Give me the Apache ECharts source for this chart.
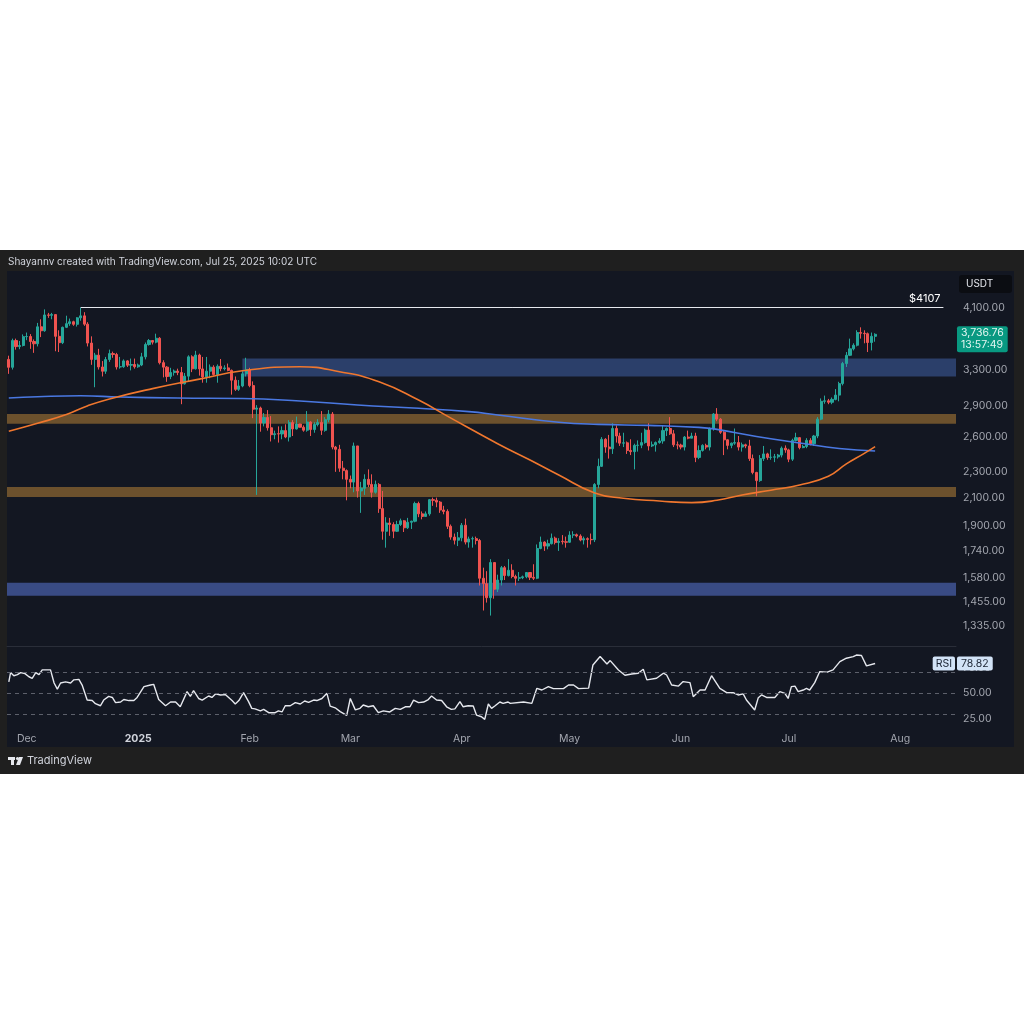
<!DOCTYPE html>
<html>
<head>
<meta charset="utf-8">
<title>ETH/USDT daily</title>
<script src="https://cdn.jsdelivr.net/npm/echarts@6/dist/echarts.min.js"></script>
<style>
  html, body { margin: 0; padding: 0; background: #fff; }
  #main { width: 1024px; height: 1024px; }
</style>
</head>
<body>
<div id="main"></div>
<script>
// one category per day, first candle Nov 26 2024, empty space kept up to mid Aug
var startDate = '2024-11-26';
var dayCount = 264;

// daily candles [open, close, low, high]
var ohlc = [
  // Nov 26 - 30
  [3420,3326,3250,3465],[3326,3655,3300,3680],[3655,3578,3540,3680],[3578,3592,3545,3650],[3592,3706,3580,3735],
  // Dec
  [3706,3708,3660,3760],[3708,3643,3550,3740],[3643,3614,3500,3670],[3614,3837,3580,3890],[3837,3784,3700,3940],
  [3784,4001,3770,4080],[4001,3996,3960,4030],[3996,4006,3940,4030],[4006,3710,3520,4010],[3710,3628,3510,3790],
  [3628,3830,3610,3840],[3830,3880,3820,3990],[3880,3906,3850,3950],[3906,3871,3850,3920],[3871,3960,3840,3970],
  [3960,3988,3920,4107],[3988,3873,3850,4040],[3873,3623,3580,3900],[3623,3420,3355,3710],[3420,3472,3100,3500],
  [3472,3330,3300,3550],[3330,3280,3220,3400],[3280,3418,3250,3450],[3418,3491,3390,3540],[3491,3480,3440,3515],
  [3480,3330,3300,3500],[3330,3333,3310,3450],[3333,3402,3320,3420],[3402,3351,3330,3410],[3351,3359,3290,3430],
  [3359,3332,3310,3430],
  // Jan
  [3332,3353,3320,3370],[3353,3451,3340,3500],[3451,3605,3420,3630],[3605,3656,3590,3675],[3656,3635,3605,3660],
  [3635,3685,3620,3745],[3685,3381,3360,3700],[3381,3328,3210,3410],[3328,3220,3160,3340],[3220,3265,3190,3320],
  [3265,3282,3230,3300],[3282,3265,3235,3310],[3265,3138,2920,3330],[3138,3224,3130,3260],[3224,3451,3160,3470],
  [3451,3308,3270,3470],[3308,3473,3300,3525],[3473,3307,3230,3490],[3307,3215,3150,3450],[3215,3281,3150,3450],
  [3281,3328,3200,3360],[3328,3243,3230,3350],[3243,3338,3150,3360],[3338,3310,3280,3425],[3310,3319,3290,3350],
  [3319,3290,3280,3370],[3290,3178,3020,3300],[3178,3077,3060,3220],[3077,3114,3060,3180],[3114,3250,3100,3280],
  [3250,3300,3220,3440],
  // Feb
  [3300,3118,3100,3320],[3118,2869,2780,3165],[2869,2881,2120,2910],[2881,2732,2650,2895],[2732,2786,2700,2830],
  [2786,2687,2660,2860],[2687,2622,2560,2800],[2622,2631,2580,2660],[2631,2629,2550,2700],[2629,2660,2580,2700],
  [2660,2601,2590,2720],[2601,2737,2560,2760],[2737,2676,2610,2760],[2676,2723,2670,2795],[2723,2692,2690,2725],
  [2692,2664,2650,2710],[2664,2742,2650,2850],[2742,2670,2610,2750],[2670,2718,2640,2740],[2718,2738,2700,2770],
  [2738,2663,2620,2850],[2663,2765,2650,2790],[2765,2820,2740,2860],[2820,2510,2490,2840],[2510,2490,2300,2520],
  [2490,2330,2300,2530],[2330,2310,2240,2390],[2310,2240,2080,2320],
  // Mar
  [2240,2218,2170,2270],[2218,2520,2140,2550],[2520,2150,2100,2520],[2150,2170,1990,2220],[2170,2240,2120,2280],
  [2240,2200,2180,2320],[2200,2140,2100,2280],[2140,2200,2130,2230],[2200,2020,1990,2210],[2020,1865,1810,2150],
  [1865,1920,1760,1960],[1920,1910,1835,1955],[1910,1865,1820,1925],[1865,1910,1860,1935],[1910,1935,1900,1950],
  [1935,1888,1860,1940],[1888,1925,1880,1955],[1925,1932,1880,1936],[1932,2057,1925,2070],[2057,1983,1960,2070],
  [1983,1965,1945,2000],[1965,1983,1965,2000],[1983,2085,1970,2090],[2085,2080,2040,2100],[2080,2067,2030,2100],
  [2067,2010,1990,2075],[2010,2000,1980,2040],[2000,1898,1880,2015],[1898,1827,1810,1910],[1827,1807,1780,1850],
  [1807,1822,1770,1860],
  // Apr
  [1822,1905,1800,1920],[1905,1795,1780,1950],[1795,1815,1760,1830],[1815,1817,1760,1830],[1817,1805,1780,1830],
  [1805,1580,1540,1815],[1580,1550,1410,1640],[1550,1475,1450,1620],[1475,1670,1385,1690],[1670,1520,1470,1670],
  [1520,1570,1505,1600],[1570,1640,1540,1650],[1640,1595,1570,1650],[1595,1625,1590,1690],[1625,1590,1580,1660],
  [1590,1580,1540,1600],[1580,1583,1565,1615],[1583,1588,1575,1595],[1588,1612,1580,1615],[1612,1585,1570,1615],
  [1585,1580,1570,1660],[1580,1755,1575,1780],[1755,1795,1750,1830],[1795,1770,1740,1800],[1770,1785,1750,1810],
  [1785,1820,1780,1850],[1820,1792,1780,1830],[1792,1800,1740,1820],[1800,1797,1780,1840],[1797,1794,1760,1830],
  // May
  [1794,1840,1790,1865],[1840,1842,1820,1865],[1842,1834,1825,1850],[1834,1808,1800,1845],[1808,1817,1780,1830],
  [1817,1812,1760,1825],[1812,1810,1780,1850],[1810,2200,1795,2210],[2200,2345,2170,2410],[2345,2580,2340,2600],
  [2580,2510,2460,2590],[2510,2495,2410,2620],[2495,2680,2450,2730],[2680,2610,2550,2710],[2610,2545,2520,2640],
  [2545,2548,2510,2640],[2548,2480,2450,2560],[2480,2470,2440,2580],[2470,2525,2320,2540],[2525,2527,2470,2570],
  [2527,2550,2500,2640],[2550,2665,2540,2680],[2665,2520,2480,2730],[2520,2530,2510,2560],[2530,2550,2470,2560],
  [2550,2565,2540,2590],[2565,2660,2540,2710],[2660,2680,2610,2690],[2680,2630,2620,2790],[2630,2530,2510,2665],
  [2530,2528,2490,2560],
  // Jun
  [2528,2510,2490,2540],[2510,2600,2480,2610],[2600,2590,2580,2660],[2590,2610,2590,2640],[2610,2420,2380,2640],
  [2420,2480,2405,2525],[2480,2525,2470,2535],[2525,2510,2490,2540],[2510,2680,2480,2690],[2680,2820,2660,2830],
  [2820,2770,2750,2880],[2770,2645,2630,2780],[2645,2575,2440,2655],[2575,2525,2490,2580],[2525,2545,2500,2550],
  [2545,2550,2530,2680],[2550,2510,2480,2610],[2510,2530,2470,2550],[2530,2520,2500,2540],[2520,2410,2390,2575],
  [2410,2295,2280,2445],[2295,2230,2110,2300],[2230,2410,2220,2440],[2410,2450,2390,2520],[2450,2420,2400,2460],
  [2420,2422,2400,2490],[2422,2425,2380,2450],[2425,2440,2410,2450],[2440,2500,2420,2515],[2500,2485,2460,2525],
  // Jul 1 - 25
  [2485,2405,2380,2495],[2405,2570,2390,2585],[2570,2595,2560,2640],[2595,2505,2490,2600],[2505,2515,2500,2530],
  [2515,2570,2500,2590],[2570,2540,2525,2590],[2540,2610,2520,2620],[2610,2770,2590,2790],[2770,2950,2760,2980],
  [2950,2955,2925,3010],[2955,2940,2920,2975],[2940,2970,2920,2990],[2970,3015,2960,3080],[3015,3140,2950,3160],
  [3140,3370,3120,3390],[3370,3470,3330,3510],[3470,3550,3460,3680],[3550,3595,3530,3620],[3595,3760,3580,3790],
  [3760,3750,3680,3830],[3750,3745,3620,3790],[3745,3630,3510,3760],[3630,3710,3530,3760],[3710,3736.76,3640,3750]
];

// moving averages, [day index, price]
var maBlue = [[0,2984],[8,2998],[20,3008],[31,2995],[47,2984],[65,2979],[81,2953],[97,2912],[114,2878],
  [128,2844],[136,2811],[153,2740],[164,2719],[178,2710],[192,2691],[197,2672],[208,2605],[220,2547],
  [231,2498],[241,2476]];
var maOrange = [[0,2654],[8,2730],[16,2815],[22,2905],[28,2975],[40,3085],[53,3190],[65,3285],
  [81,3333],[92,3275],[103,3161],[114,2963],[122,2800],[136,2540],[145,2398],[153,2274],[163,2135],
  [171,2095],[181,2075],[190,2063],[197,2080],[204,2120],[212,2155],[220,2196],[228,2265],
  [233,2365],[238,2455],[241,2514]];

var rsi = [[0,61],[0.5,70],[1.4,67],[2.4,68],[3.3,70],[4.5,69],[5.6,66],[6.5,64.5],[7.5,70],[8.4,68],
  [9.3,72.6],[11.6,72.6],[12.6,60],[13.5,54],[14.4,60],[15.8,61],[17.2,60],[18.1,63],[19.5,63.5],[20.4,58],
  [21.8,43.5],[23.2,43],[24.1,40],[25.5,38],[26.4,43.5],[27.8,47],[28.8,46],[29.7,41],[31.1,41.6],[32,44],
  [33.4,43],[34.8,43],[35.7,46],[37.6,56.5],[39.4,58],[40.3,58.7],[41.7,44],[43.6,38],[45,41.6],[46.4,41.6],
  [47.7,37],[49.6,51.6],[50.5,47],[51.4,52.6],[52.8,45],[53.8,43.5],[55.6,47.4],[56.5,46],[57.5,49.4],
  [58.9,48.4],[60.3,48.7],[62.1,43],[63,39.7],[64,43],[65.3,50.6],[66.7,42],[67.6,35.5],[68.5,35],[70,33],
  [70.9,34.5],[72.3,31.3],[74.1,31.3],[75,33],[76,32],[76.9,38],[78.3,38],[79.7,41],[81.1,39.7],[82.3,42.6],
  [83.4,41.3],[84.8,43.5],[85.7,43],[87.1,45],[88.5,50],[89.4,37.7],[90.8,36],[92.2,32.3],[94,28.7],[95,45],
  [96.4,34],[97.7,35.5],[98.6,38.7],[100,37],[101.4,38],[102.8,31.3],[104.2,33],[106,32],[107.5,35.5],
  [108.9,34.5],[110.3,37],[111.6,37],[112.6,43.5],[114,41],[115.4,41.6],[116.7,44],[117.6,47.4],[119,43.5],
  [120.4,43],[121.8,37],[123.1,34.5],[124.1,35],[125.5,42],[126.4,37],[127.8,38],[129.2,37.7],[130.1,29],
  [131.5,27.4],[132.4,24.8],[133.4,39.7],[134.3,35.5],[135.2,37.7],[136.6,41.6],[137.5,40.3],[138.9,41.6],
  [139.5,40.3],[143.2,41.6],[145.5,40.3],[146.9,54.8],[148.3,53.2],[150.1,56.5],[151.5,54.5],[154.3,54.5],
  [155.7,58],[157.1,58],[158.5,54.5],[161.3,55],[162.5,77.4],[164.5,85.5],[166.4,78.4],[167.3,81.6],
  [169.6,72.6],[171.4,67.4],[173.3,68.7],[175.1,69.4],[176.5,73.2],[177.5,63],[180.2,64.5],[182.1,69.4],
  [183,67.7],[184.4,58],[186.3,57],[187.6,61.3],[189.5,60.3],[190.4,46.8],[192.3,53.2],[193.7,53.2],
  [195.5,67],[197.8,54.8],[199.7,50.6],[201.5,50.6],[202.9,48.4],[204.3,49.4],[205.2,43.5],[207.5,33.9],
  [208.5,45.8],[209.4,48.4],[210.8,46],[213.1,46],[214.5,51.6],[215.9,50],[216.8,45],[217.7,56.5],
  [218.7,57],[219.6,51.6],[221,53.2],[221.9,54.8],[222.8,53.2],[224.2,60.3],[225.6,71],[227.5,70.3],
  [229.3,72.6],[231.2,80.6],[233,83.9],[234.9,85.5],[235.8,87],[237.2,86.5],[238.6,76.5],[241,78.82]];
var rsiLast = 78.82;
var rsiBands = [70, 50, 30];
var rsiTicks = [25, 50, 75];

// zones [low, high, first day index]  (0 = from the left edge)
var blueZones = [[3220, 3430, 65], [1485, 1555, 0]];
var orangeZones = [[2725, 2820, 0], [2105, 2180, 0]];

var highLevel = 4107, highDay = 20, highEndDay = 260;
var lastPrice = 3736.76, countdown = '13:57:49';

var priceTicks = [4100, 3300, 2900, 2600, 2300, 2100, 1900, 1740, 1580, 1455, 1335];
var priceMin = 1244, priceMax = 4672;
var monthDays = [5, 36, 67, 95, 126, 156, 187, 217, 248];
var monthNames = ['Dec', '2025', 'Feb', 'Mar', 'Apr', 'May', 'Jun', 'Jul', 'Aug'];

var L = Math.log;
var font = 'Inter, "Noto Sans", "DejaVu Sans", sans-serif';
var hidden = { color: 'rgba(0,0,0,0)', width: 0 };

var cats = [];
var t0 = new Date(startDate + 'T00:00:00Z').getTime();
for (var i = 0; i < dayCount; i++) {
  cats.push(new Date(t0 + i * 86400000).toISOString().slice(0, 10));
}

function zoneItem(z, color) {
  var a = { yAxis: L(z[0]), itemStyle: { color: color } };
  if (z[2] > 0) a.xAxis = cats[z[2]];
  return [a, { yAxis: L(z[1]) }];
}
var zoneData = [];
zoneData.push(zoneItem(blueZones[0], 'rgba(58,88,150,0.62)'));
zoneData.push(zoneItem(blueZones[1], 'rgba(72,96,170,0.72)'));
orangeZones.forEach(function (z) { zoneData.push(zoneItem(z, 'rgba(190,135,55,0.52)')); });

function priceLabel(v) {
  var p = Math.exp(v), best = priceTicks[0];
  priceTicks.forEach(function (t) { if (Math.abs(t - p) < Math.abs(best - p)) best = t; });
  return best.toLocaleString('en-US', { minimumFractionDigits: 2, maximumFractionDigits: 2 });
}

var chart = echarts.init(document.getElementById('main'));

var option = {
  backgroundColor: '#ffffff',
  animation: false,
  textStyle: { fontFamily: font },
  graphic: [
    { type: 'rect', z: -10, shape: { x: 0, y: 250, width: 1024, height: 524 }, style: { fill: '#1f1f1f' } },
    { type: 'rect', z: -9, shape: { x: 7, y: 271, width: 1007, height: 476 }, style: { fill: '#131722' } },
    { type: 'text', x: 8, y: 262, style: { text: 'Shayannv created with TradingView.com, Jul 25, 2025 10:02 UTC',
        fill: '#d1d4dc', font: '10px ' + font, verticalAlign: 'middle' } },
    { type: 'rect', shape: { x: 959, y: 275, width: 53, height: 18, r: 3 }, style: { fill: '#0b0d12' } },
    { type: 'text', x: 966, y: 284, style: { text: 'USDT', fill: '#e6e8ee', font: '10px ' + font, verticalAlign: 'middle' } },
    // TradingView logo
    { type: 'rect', shape: { x: 8, y: 757, width: 7, height: 3 }, style: { fill: '#e6e8ee' } },
    { type: 'rect', shape: { x: 11, y: 757, width: 3, height: 8 }, style: { fill: '#e6e8ee' } },
    { type: 'circle', shape: { cx: 17.5, cy: 758.5, r: 1.6 }, style: { fill: '#e6e8ee' } },
    { type: 'polygon', shape: { points: [[19, 757], [23, 757], [20, 765], [16, 765]] }, style: { fill: '#e6e8ee' } },
    { type: 'text', x: 27, y: 761, style: { text: 'TradingView', fill: '#d1d4dc', font: '11px ' + font, verticalAlign: 'middle' } }
  ],
  grid: [
    { left: 7, right: 68, top: 271, height: 375 },
    { left: 7, right: 68, top: 646, height: 82 }
  ],
  xAxis: [
    {
      type: 'category', gridIndex: 0, data: cats, boundaryGap: true,
      axisLabel: { show: false }, axisTick: { show: false },
      axisLine: { show: true, lineStyle: { color: '#2a2e39' } }, splitLine: { show: false }
    },
    {
      type: 'value', gridIndex: 1, min: -0.5, max: dayCount - 0.5,
      axisLine: { show: false }, axisTick: { show: false }, splitLine: { show: false },
      axisLabel: {
        customValues: monthDays, color: '#a3a6af', fontSize: 10.5, margin: 5,
        formatter: function (v) {
          var k = monthDays.indexOf(Math.round(v));
          if (k < 0) return '';
          return monthNames[k] === '2025' ? '{b|2025}' : monthNames[k];
        },
        rich: { b: { fontWeight: 'bold', color: '#d1d4dc', fontSize: 10.5 } }
      }
    }
  ],
  yAxis: [
    {
      type: 'value', gridIndex: 0, position: 'right', min: L(priceMin), max: L(priceMax),
      axisLine: { show: false }, axisTick: { show: false }, splitLine: { show: false },
      axisLabel: { customValues: priceTicks.map(L), formatter: priceLabel, color: '#a3a6af', fontSize: 10.5, margin: 7 }
    },
    {
      type: 'value', gridIndex: 1, position: 'right', min: 16.5, max: 95.7,
      axisLine: { show: false }, axisTick: { show: false }, splitLine: { show: false },
      axisLabel: { customValues: rsiTicks, formatter: function (v) { return v.toFixed(2); },
        color: '#a3a6af', fontSize: 10.5, margin: 7 }
    }
  ],
  series: [
    {
      name: 'zones', type: 'line', xAxisIndex: 0, yAxisIndex: 0, data: [], z: 1, silent: true,
      markArea: { silent: true, data: zoneData }
    },
    {
      name: 'ETHUSDT', type: 'candlestick', xAxisIndex: 0, yAxisIndex: 0, z: 2, barWidth: '72%',
      data: ohlc.map(function (r) { return [L(r[0]), L(r[1]), L(r[2]), L(r[3])]; }),
      itemStyle: { color: '#26a69a', color0: '#ef5350', borderColor: '#26a69a', borderColor0: '#ef5350', borderWidth: 1 },
      markLine: {
        silent: true, symbol: ['none', 'none'], z: 5,
        lineStyle: { color: '#e6e8ee', width: 1, type: 'solid' },
        label: { position: 'insideEndTop', formatter: '$' + highLevel, color: '#ffffff', fontSize: 11, distance: 3 },
        data: [
          [{ xAxis: cats[highDay], yAxis: L(highLevel) }, { xAxis: cats[highEndDay], yAxis: L(highLevel) }],
          {
            yAxis: L(lastPrice), lineStyle: hidden,
            label: {
              show: true, position: 'end', distance: 1, offset: [0, 6],
              formatter: lastPrice.toLocaleString('en-US', { minimumFractionDigits: 2 }) + '\n' + countdown,
              backgroundColor: '#089981', color: '#e3f6f1', fontSize: 10.5, lineHeight: 12,
              padding: [1, 4, 1, 4], borderRadius: 2
            }
          }
        ]
      }
    },
    {
      name: 'MA blue', type: 'line', xAxisIndex: 0, yAxisIndex: 0, z: 3, silent: true,
      data: maBlue.map(function (p) { return [p[0], L(p[1])]; }),
      smooth: 0.5, showSymbol: false,
      lineStyle: { color: '#4a78e2', width: 1.6 }
    },
    {
      name: 'MA orange', type: 'line', xAxisIndex: 0, yAxisIndex: 0, z: 3, silent: true,
      data: maOrange.map(function (p) { return [p[0], L(p[1])]; }),
      smooth: 0.5, showSymbol: false,
      lineStyle: { color: '#f0772e', width: 1.6 }
    },
    {
      name: 'RSI', type: 'line', xAxisIndex: 1, yAxisIndex: 1, z: 3, silent: true,
      data: rsi, showSymbol: false,
      lineStyle: { color: '#e6e8ee', width: 1.4 },
      markLine: {
        silent: true, symbol: ['none', 'none'], z: 5,
        lineStyle: { color: '#5d606b', type: [4, 4], width: 1 },
        label: { show: false },
        data: rsiBands.map(function (b) { return { yAxis: b }; }).concat([
          { yAxis: rsiLast, lineStyle: hidden,
            label: { show: true, position: 'end', distance: 1, formatter: rsiLast.toFixed(2),
              backgroundColor: '#d2e3f7', color: '#1b2433', fontSize: 10.5, padding: [2, 4, 1, 4], borderRadius: 2 } },
          { yAxis: rsiLast, lineStyle: hidden,
            label: { show: true, position: 'insideEnd', distance: 1, formatter: 'RSI',
              backgroundColor: '#d2e3f7', color: '#1b2433', fontSize: 10.5, padding: [2, 3, 1, 3], borderRadius: 2 } }
        ])
      }
    }
  ]
};

chart.setOption(option);
</script>
</body>
</html>
